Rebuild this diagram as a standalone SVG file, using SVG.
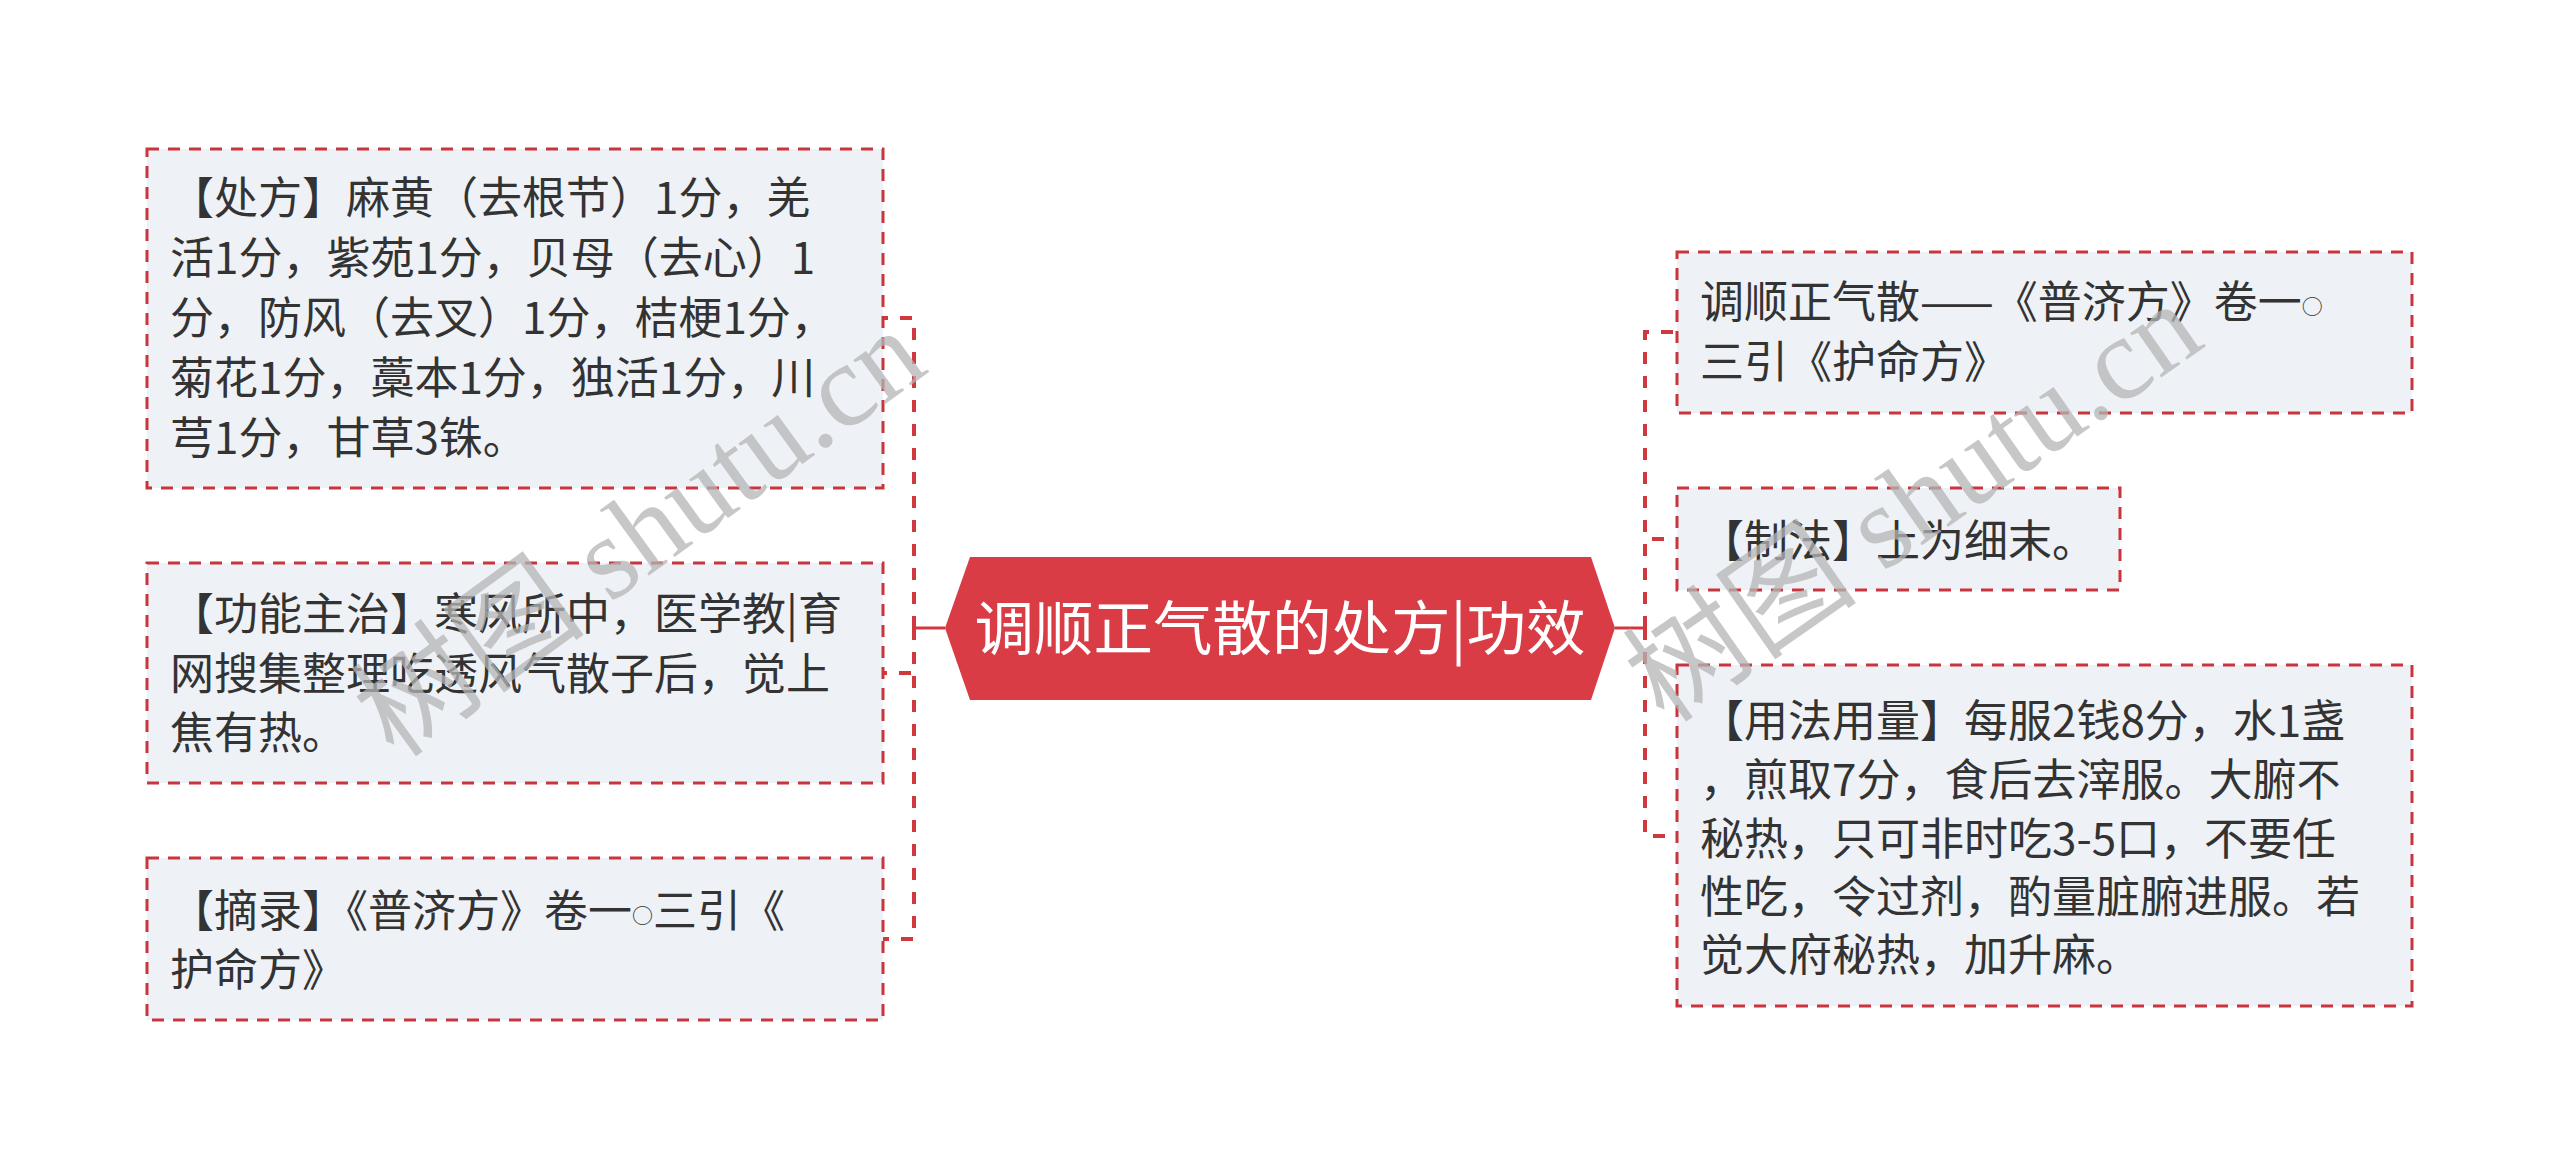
<svg xmlns="http://www.w3.org/2000/svg" width="2560" height="1169" viewBox="0 0 2560 1169">
<style>
.box{fill:#EEF1F5;stroke:#C9353D;stroke-width:3;stroke-dasharray:12 9}
.t{font-family:"Noto Sans CJK SC","Noto Sans",sans-serif;font-size:44px;fill:#333333}
.o{font-size:21px}
.conn{fill:none;stroke:#D0383F;stroke-width:4;stroke-dasharray:12 12}
.solid{fill:none;stroke:#D0383F;stroke-width:3}
.wm{font-family:"Liberation Serif","Noto Sans CJK SC",serif;font-size:118px;fill:#b5b5b5;opacity:.75}
</style>
<rect width="2560" height="1169" fill="#FFFFFF"/>
<g id="connectors">
<path class="solid" d="M945,628 H914"/>
<path class="solid" d="M1615,628 H1645"/>
<path class="conn" d="M914,628 V318 H883"/>
<path class="conn" d="M914,628 V673 H883"/>
<path class="conn" d="M914,628 V939 H883"/>
<path class="conn" d="M1645,628 V332 H1677"/>
<path class="conn" d="M1645,628 V539 H1677"/>
<path class="conn" d="M1645,628 V836 H1677"/>
</g>
<g id="root">
<polygon points="945,628 970,557 1591,557 1615,628 1591,700 970,700" fill="#D93C44"/>
<text x="1280" y="650" text-anchor="middle" font-family="Noto Sans CJK SC, sans-serif" font-size="59.5" fill="#FFFFFF">调顺正气散的处方|功效</text>
</g>
<g id="node-chufang">
<rect class="box" x="147" y="149" width="736" height="339"/>
<text class="t" x="170" y="214">【处方】麻黄（去根节）1分，羌</text>
<text class="t" x="170" y="274">活1分，紫苑1分，贝母（去心）1</text>
<text class="t" x="170" y="334">分，防风（去叉）1分，桔梗1分，</text>
<text class="t" x="170" y="394">菊花1分，藁本1分，独活1分，川</text>
<text class="t" x="170" y="454">芎1分，甘草3铢。</text>
</g>
<g id="node-gongneng">
<rect class="box" x="147" y="563" width="736" height="220"/>
<text class="t" x="170" y="630">【功能主治】寒风所中，医学教|育</text>
<text class="t" x="170" y="690">网搜集整理吃透风气散子后，觉上</text>
<text class="t" x="170" y="749">焦有热。</text>
</g>
<g id="node-zhailu">
<rect class="box" x="147" y="858" width="736" height="162"/>
<text class="t" x="170" y="927">【摘录】《普济方》卷一<tspan class="o" dy="-4">○</tspan><tspan dy="4">三引《</tspan></text>
<text class="t" x="170" y="986">护命方》</text>
</g>
<g id="node-source">
<rect class="box" x="1677" y="252" width="735" height="161"/>
<text class="t" x="1700" y="318">调顺正气散——《普济方》卷一<tspan class="o" dy="-4">○</tspan></text>
<text class="t" x="1700" y="378">三引《护命方》</text>
</g>
<g id="node-zhifa">
<rect class="box" x="1677" y="488" width="443" height="102"/>
<text class="t" x="1700" y="557">【制法】上为细末。</text>
</g>
<g id="node-yongfa">
<rect class="box" x="1677" y="665" width="735" height="341"/>
<text class="t" x="1700" y="737">【用法用量】每服2钱8分，水1盏</text>
<text class="t" x="1700" y="796">，煎取7分，食后去滓服。大腑不</text>
<text class="t" x="1700" y="855">秘热，只可非时吃3-5口，不要任</text>
<text class="t" x="1700" y="913">性吃，令过剂，酌量脏腑进服。若</text>
<text class="t" x="1700" y="971">觉大府秘热，加升麻。</text>
</g>
<g id="watermarks">
<text class="wm" x="395" y="760" transform="rotate(-36 395 760)">树图 shutu.cn</text>
<text class="wm" x="1665" y="725" transform="rotate(-35 1665 725)">树图 shutu.cn</text>
</g>
</svg>
